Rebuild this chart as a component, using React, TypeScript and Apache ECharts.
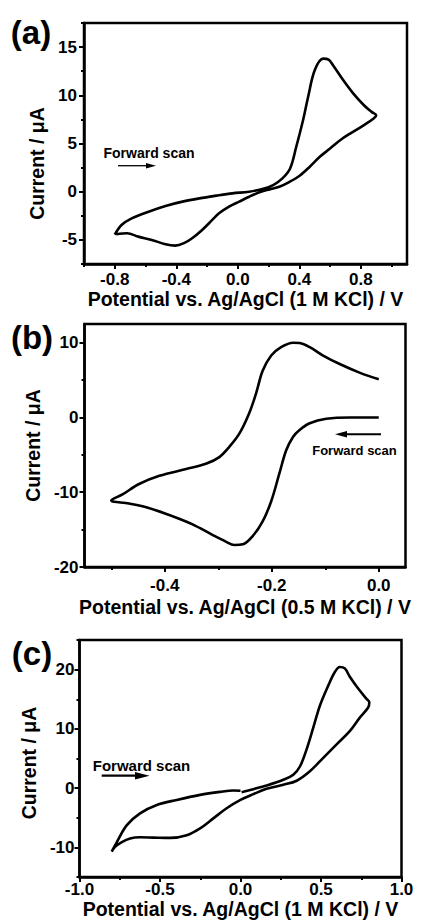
import React, { useEffect, useRef } from "react";
import * as echarts from "echarts";

const FONT = '"Liberation Sans", Arial, Helvetica, sans-serif';

// Panel (a): 1 M KCl
const potentialA = [
  -0.8, -0.756, -0.69, -0.58, -0.47, -0.36, -0.25, -0.14, -0.035, 0.074, 0.16, 0.23, 0.29, 0.34, 0.38, 0.424, 0.457, 0.5, 0.555, 0.59, 0.62, 0.686, 0.75, 0.82, 0.87, 0.9,
  0.883, 0.82, 0.73, 0.665, 0.6, 0.533, 0.468, 0.402, 0.337, 0.27, 0.205, 0.14, 0.074, 0.009, -0.057, -0.122, -0.166, -0.232, -0.297, -0.35, -0.407, -0.47, -0.56, -0.647, -0.72, -0.79,
];
const currentA = [
  -4.45, -3.45, -2.76, -2.07, -1.48, -1.03, -0.69, -0.41, -0.17, 0.0, 0.28, 0.69, 1.38, 2.41, 4.66, 7.41, 9.83, 12.6, 13.8, 13.7, 13.1, 11.55, 10.2, 8.97, 8.28, 7.93,
  7.59, 6.9, 6.03, 5.34, 4.48, 3.62, 2.59, 1.66, 1.03, 0.52, 0.24, -0.07, -0.52, -1.03, -1.55, -2.24, -2.93, -3.97, -4.83, -5.34, -5.59, -5.45, -5.0, -4.66, -4.31, -4.41,
];

// Panel (b): 0.5 M KCl
const potentialB = [
  0, -0.054, -0.098, -0.129, -0.148, -0.16, -0.173, -0.186, -0.201, -0.217, -0.236, -0.254, -0.27, -0.286, -0.311, -0.348, -0.386, -0.43, -0.467, -0.5,
  -0.479, -0.448, -0.41, -0.36, -0.323, -0.298, -0.279, -0.26, -0.242, -0.229, -0.217, -0.201, -0.1825, -0.16, -0.148, -0.129, -0.104, -0.073, -0.036, 0,
];
const currentB = [
  0, 0, -0.18, -0.77, -1.67, -2.58, -4.39, -7.56, -11.2, -13.9, -15.9, -16.97, -17.06, -16.6, -15.7, -14.3, -13.2, -12.1, -11.5, -11.1,
  -10.3, -8.9, -7.8, -6.9, -6.2, -5.3, -3.9, -2.1, 0.59, 3.3, 6.24, 8.28, 9.4, 10.0, 9.95, 9.4, 8.28, 7.15, 6.0, 5.1,
];

// Panel (c): 1 M KCl
const potentialC = [
  0.007, 0.08, 0.162, 0.266, 0.328, 0.37, 0.41, 0.452, 0.493, 0.545, 0.586, 0.617, 0.648, 0.68, 0.731, 0.783, 0.8,
  0.793, 0.741, 0.68, 0.597, 0.514, 0.431, 0.349, 0.266, 0.162, 0.08, 0, -0.086, -0.169, -0.251, -0.334, -0.437, -0.54, -0.624, -0.686, -0.737, -0.779, -0.8,
  -0.768, -0.706, -0.624, -0.52, -0.396, -0.251, -0.127, -0.044, 0,
];
const currentC = [
  -0.68, -0.17, 0.45, 1.42, 2.27, 3.69, 6.5, 10.2, 13.9, 17.3, 19.6, 20.45, 20.2, 18.75, 16.8, 15.06, 14.5,
  13.6, 11.9, 9.66, 7.39, 5.11, 2.84, 1.25, 0.57, -0.11, -1.02, -1.99, -3.4, -5.11, -6.8, -7.95, -8.4, -8.35, -8.3, -8.5, -9.1, -9.9, -10.7,
  -9.1, -6.25, -4.26, -2.84, -1.99, -1.14, -0.63, -0.4, -0.45,
];

// Tick values
const xMajorA = [-0.8, -0.4, 0, 0.4, 0.8];
const xMinorA = [-1.0, -0.6, -0.2, 0.2, 0.6, 1.0];
const yMajorA = [-5, 0, 5, 10, 15];
const yMinorA = [-7.5, -2.5, 2.5, 7.5, 12.5, 17.5];
const xMajorB = [-0.4, -0.2, 0];
const xMinorB = [-0.5, -0.3, -0.1];
const yMajorB = [-20, -10, 0, 10];
const yMinorB = [-15, -5, 5];
const xMajorC = [-1.0, -0.5, 0, 0.5, 1.0];
const xMinorC = [-0.75, -0.25, 0.25, 0.75];
const yMajorC = [-10, 0, 10, 20];
const yMinorC = [-15, -5, 5, 15, 25];

const xNameA = "Potential vs. Ag/AgCl (1 M KCl) / V";
const xNameB = "Potential vs. Ag/AgCl (0.5 M KCl) / V";
const xNameC = "Potential vs. Ag/AgCl (1 M KCl) / V";
const yName = "Current / \u03bcA";

const pairs = (xs: number[], ys: number[]) => xs.map((x, i) => [x, ys[i]]);

const nameStyle = { fontFamily: FONT, fontWeight: "bold", fontSize: 19.5, color: "#000" };
const labelStyle = { fontFamily: FONT, fontWeight: "bold", fontSize: 17, color: "#000" };

function mainX(grid: number, min: number, max: number, major: number[], name: string, nameGap: number, margin: number) {
  return {
    type: "value", gridIndex: grid, min, max, position: "bottom",
    name, nameLocation: "middle", nameGap, nameTextStyle: nameStyle,
    axisLine: { show: true, onZero: false, lineStyle: { color: "#000", width: 2.5 } },
    axisTick: { show: true, inside: false, length: 5, customValues: major, lineStyle: { color: "#000", width: 2 } },
    axisLabel: { ...labelStyle, customValues: major, margin, formatter: (v: number) => v.toFixed(1) },
    splitLine: { show: false },
  };
}
function minorX(grid: number, min: number, max: number, minor: number[]) {
  return {
    type: "value", gridIndex: grid, min, max, position: "bottom",
    axisLine: { show: false, onZero: false },
    axisTick: { show: true, inside: false, length: 3, customValues: minor, lineStyle: { color: "#000", width: 2 } },
    axisLabel: { show: false },
    splitLine: { show: false },
  };
}
function mainY(grid: number, min: number, max: number, major: number[], nameGap: number, margin: number, padding: number[]) {
  return {
    type: "value", gridIndex: grid, min, max, position: "left",
    name: yName, nameLocation: "middle", nameGap, nameTextStyle: { ...nameStyle, padding },
    axisLine: { show: true, onZero: false, lineStyle: { color: "#000", width: 2.5 } },
    axisTick: { show: true, inside: false, length: 5, customValues: major, lineStyle: { color: "#000", width: 2 } },
    axisLabel: { ...labelStyle, customValues: major, margin, formatter: (v: number) => String(v) },
    splitLine: { show: false },
  };
}
function minorY(grid: number, min: number, max: number, minor: number[]) {
  return {
    type: "value", gridIndex: grid, min, max, position: "left",
    axisLine: { show: false, onZero: false },
    axisTick: { show: true, inside: false, length: 3, customValues: minor, lineStyle: { color: "#000", width: 2 } },
    axisLabel: { show: false },
    splitLine: { show: false },
  };
}

const gridBase = { show: true, borderColor: "#000", borderWidth: 2.5, backgroundColor: "transparent" };

function curve(grid: number, data: number[][]) {
  return {
    type: "line", xAxisIndex: grid * 2, yAxisIndex: grid * 2, data,
    showSymbol: false, smooth: 0.35, clip: false,
    lineStyle: { color: "#000", width: 2.6 },
  };
}

function text(t: string, x: number, y: number, size: number) {
  return {
    type: "text", x, y,
    style: { text: t, fill: "#000", fontFamily: FONT, fontWeight: "bold", fontSize: size, align: "center", verticalAlign: "middle" },
  };
}

export default function App() {
  const ref = useRef<HTMLDivElement>(null);
  useEffect(() => {
    if (!ref.current) return;
    const chart = echarts.init(ref.current, undefined, { renderer: "svg" });
    chart.setOption({
      animation: false,
      backgroundColor: "#fff",
      grid: [
        { ...gridBase, left: 84, top: 23, width: 323, height: 241 },
        { ...gridBase, left: 84.5, top: 324, width: 321, height: 243 },
        { ...gridBase, left: 79.5, top: 640, width: 322, height: 237 },
      ],
      xAxis: [
        mainX(0, -1.0, 1.1, xMajorA, xNameA, 25, 7),
        minorX(0, -1.0, 1.1, xMinorA),
        mainX(1, -0.55, 0.05, xMajorB, xNameB, 30, 10),
        minorX(1, -0.55, 0.05, xMinorB),
        mainX(2, -1.0, 1.0, xMajorC, xNameC, 18, 4),
        minorX(2, -1.0, 1.0, xMinorC),
      ],
      yAxis: [
        mainY(0, -7.5, 17.5, yMajorA, 31, 7, [0, 40, 0, 0]),
        minorY(0, -7.5, 17.5, yMinorA),
        mainY(1, -20, 12.5, yMajorB, 33, 6, [0, 0, 0, 0]),
        minorY(1, -20, 12.5, yMinorB),
        mainY(2, -15, 25, yMajorC, 29, 5, [0, 9, 0, 0]),
        minorY(2, -15, 25, yMinorC),
      ],
      series: [
        curve(0, pairs(potentialA, currentA)),
        curve(1, pairs(potentialB, currentB)),
        curve(2, pairs(potentialC, currentC)),
      ],
      graphic: [
        text("(a)", 31, 32, 33),
        text("(b)", 32, 337, 33),
        text("(c)", 32, 653, 33),
        text("Forward scan", 149, 153, 14),
        text("Forward scan", 354.5, 450, 13),
        text("Forward scan", 141.5, 765.5, 15),
        { type: "line", shape: { x1: 118, y1: 165.7, x2: 150, y2: 165.7 }, style: { stroke: "#000", lineWidth: 1.3 } },
        { type: "polygon", shape: { points: [[146, 163], [156, 165.7], [146, 168.4]] }, style: { fill: "#000" } },
        { type: "line", shape: { x1: 381, y1: 434.3, x2: 342, y2: 434.3 }, style: { stroke: "#000", lineWidth: 2 } },
        { type: "polygon", shape: { points: [[335, 434.3], [347, 431], [347, 437.6]] }, style: { fill: "#000" } },
        { type: "line", shape: { x1: 101.7, y1: 775.7, x2: 140, y2: 775.7 }, style: { stroke: "#000", lineWidth: 2.2 } },
        { type: "polygon", shape: { points: [[149.5, 775.7], [135, 772], [135, 779.4]] }, style: { fill: "#000" } },
      ],
    });
    return () => chart.dispose();
  }, []);
  return <div ref={ref} style={{ position: "absolute", left: 0, top: 0, width: 426, height: 923 }} />;
}
